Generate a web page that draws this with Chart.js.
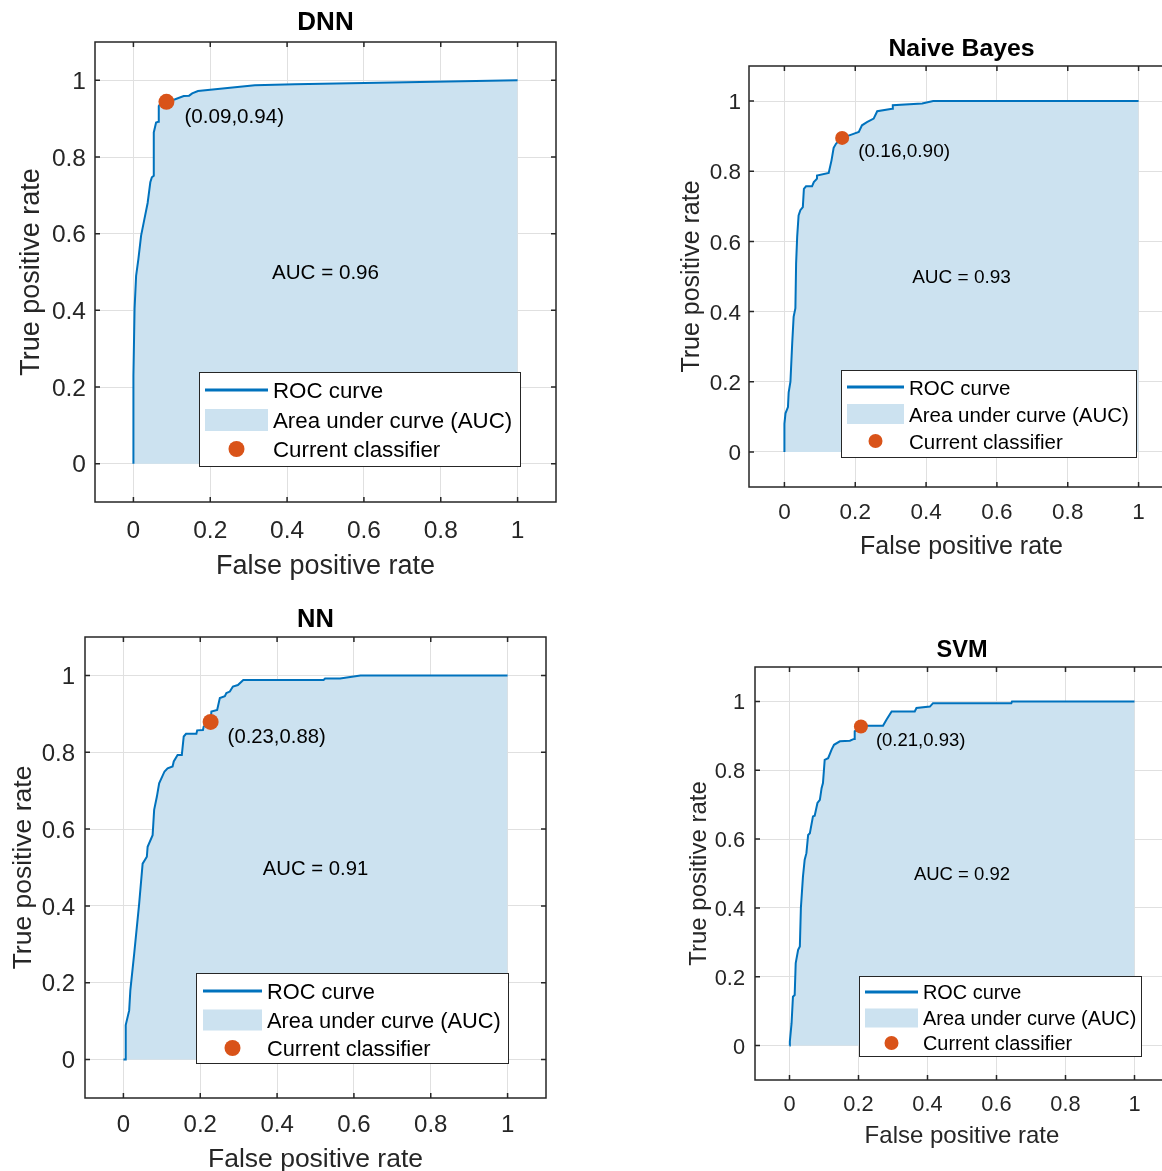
<!DOCTYPE html>
<html><head><meta charset="utf-8">
<script src="https://cdn.jsdelivr.net/npm/chart.js@4.4.1/dist/chart.umd.min.js"></script>
<style>
html,body{margin:0;padding:0;background:#fff;overflow:hidden;width:1162px;height:1171px;position:relative;}
canvas{position:absolute;}
</style></head><body>
<canvas id="c0"></canvas><canvas id="c1"></canvas><canvas id="c2"></canvas><canvas id="c3"></canvas>
<script>
// ---------- DATA ----------
const titles = ['DNN', 'Naive Bayes', 'NN', 'SVM'];

const dnnFpr = [0, 0, 0.003, 0.007, 0.013, 0.02, 0.027, 0.037, 0.044, 0.048, 0.053, 0.053, 0.059, 0.065, 0.066, 0.072, 0.086, 0.107, 0.131, 0.145, 0.153, 0.168, 0.316, 0.42, 1.0];
const dnnTpr = [0, 0.23, 0.404, 0.49, 0.534, 0.595, 0.63, 0.68, 0.734, 0.747, 0.751, 0.864, 0.89, 0.892, 0.933, 0.942, 0.944, 0.95, 0.959, 0.96, 0.966, 0.972, 0.987, 0.99, 1.0];

const nbFpr = [0, 0, 0.003, 0.01, 0.012, 0.017, 0.022, 0.026, 0.031, 0.033, 0.036, 0.04, 0.045, 0.052, 0.055, 0.061, 0.078, 0.083, 0.092, 0.092, 0.125, 0.133, 0.139, 0.146, 0.163, 0.191, 0.21, 0.219, 0.233, 0.252, 0.262, 0.304, 0.306, 0.389, 0.42, 1.0];
const nbTpr = [0, 0.08, 0.11, 0.128, 0.17, 0.2, 0.31, 0.385, 0.41, 0.537, 0.613, 0.674, 0.689, 0.698, 0.75, 0.757, 0.757, 0.769, 0.779, 0.788, 0.795, 0.831, 0.867, 0.879, 0.895, 0.905, 0.912, 0.931, 0.94, 0.95, 0.971, 0.978, 0.988, 0.993, 1.0, 1.0];

const nnFpr = [0, 0.006, 0.006, 0.015, 0.018, 0.028, 0.041, 0.05, 0.061, 0.063, 0.076, 0.08, 0.087, 0.093, 0.107, 0.115, 0.128, 0.131, 0.141, 0.152, 0.157, 0.163, 0.19, 0.192, 0.207, 0.209, 0.227, 0.229, 0.244, 0.251, 0.264, 0.268, 0.277, 0.285, 0.298, 0.312, 0.521, 0.525, 0.564, 0.617, 1.0];
const nnTpr = [0, 0, 0.09, 0.128, 0.18, 0.275, 0.406, 0.51, 0.528, 0.554, 0.584, 0.65, 0.684, 0.719, 0.75, 0.758, 0.763, 0.776, 0.793, 0.793, 0.841, 0.848, 0.848, 0.857, 0.858, 0.867, 0.879, 0.906, 0.91, 0.941, 0.946, 0.954, 0.958, 0.971, 0.975, 0.988, 0.988, 0.992, 0.992, 1.0, 1.0];

const svmFpr = [0, 0.001, 0.006, 0.01, 0.015, 0.018, 0.025, 0.03, 0.033, 0.039, 0.044, 0.049, 0.054, 0.059, 0.068, 0.073, 0.081, 0.088, 0.093, 0.097, 0.102, 0.112, 0.122, 0.129, 0.146, 0.175, 0.187, 0.189, 0.207, 0.218, 0.271, 0.281, 0.296, 0.363, 0.368, 0.407, 0.416, 0.643, 0.645, 1.0];
const svmTpr = [0, 0.012, 0.065, 0.142, 0.147, 0.24, 0.278, 0.288, 0.4, 0.491, 0.54, 0.559, 0.612, 0.617, 0.666, 0.668, 0.705, 0.714, 0.748, 0.763, 0.83, 0.835, 0.86, 0.874, 0.884, 0.886, 0.891, 0.913, 0.927, 0.929, 0.929, 0.947, 0.971, 0.971, 0.981, 0.985, 0.995, 0.995, 1.0, 1.0];

const aucValues = [0.96, 0.93, 0.91, 0.92];
const opFpr = [0.086, 0.163, 0.227, 0.207];
const opTpr = [0.944, 0.895, 0.879, 0.927];
const opLabels = ['(0.09,0.94)', '(0.16,0.90)', '(0.23,0.88)', '(0.21,0.93)'];

const tickValues = [0, 0.2, 0.4, 0.6, 0.8, 1];
const tickLabels = ['0', '0.2', '0.4', '0.6', '0.8', '1'];
const legendLabels = ['ROC curve', 'Area under curve (AUC)', 'Current classifier'];
const xAxisTitle = 'False positive rate';
const yAxisTitle = 'True positive rate';

// ---------- STYLE / LAYOUT ----------
const LINE = '#0072BD', FILL = 'rgb(204,226,240)', MARK = '#D95319', GRID = '#e0e0e0', AXC = '#262626';
const FAM = '"Liberation Sans", Arial, Helvetica, sans-serif';
const TS = 2; // visual correction for middle-baselined text

const specs = [
  {canvas:[0,0,651,600], area:[95,42,556,502], titleY:21, xTickY:529, xLabelY:565, yTickR:86, yLabelX:30,
   fonts:{tick:24.5,label:27,title:26,legend:22.3,text:20.6}, mr:8, labOff:[18,14],
   legend:{x:199,y:372,w:321,h:94,rows:[18,48,77],sx0:6,sx1:69,tx:74,ph:22,mr:8}},
  {canvas:[661,10,601,570], area:[749,66,1174,487], titleY:47, xTickY:511, xLabelY:545, yTickR:741, yLabelX:690,
   fonts:{tick:22.5,label:25,title:24.8,legend:20.5,text:19}, mr:7, labOff:[16,12],
   legend:{x:841,y:370,w:295,h:87,rows:[17,44,71],sx0:6,sx1:63,tx:68,ph:20,mr:7}},
  {canvas:[0,590,631,600], area:[85,637,546,1098], titleY:618, xTickY:1123, xLabelY:1158, yTickR:75, yLabelX:22,
   fonts:{tick:24,label:26.5,title:25.5,legend:21.8,text:20.3}, mr:8, labOff:[17,14],
   legend:{x:196,y:973,w:312,h:90,rows:[18,47,75],sx0:7,sx1:66,tx:71,ph:21,mr:8}},
  {canvas:[665,620,594,560], area:[755,667,1169,1080], titleY:649, xTickY:1103, xLabelY:1134, yTickR:745, yLabelX:697,
   fonts:{tick:21.8,label:24,title:23.5,legend:19.9,text:18.5}, mr:7, labOff:[15,13],
   legend:{x:859,y:976,w:282,h:80,rows:[16,42,67],sx0:6,sx1:59,tx:64,ph:19,mr:7}}
];

function build(i, fpr, tpr) {
  const S = specs[i];
  const cv = document.getElementById('c' + i);
  const [cl, ct, cw, ch] = S.canvas;
  cv.width = cw; cv.height = ch;
  cv.style.left = cl + 'px'; cv.style.top = ct + 'px';
  cv.style.width = cw + 'px'; cv.style.height = ch + 'px';
  const [al, at, ar, ab] = S.area;
  const F = S.fonts;
  const yW = al - cl;
  const rW = cl + cw - ar;
  const xH = ct + ch - ab;
  const titleY = S.titleY + TS;
  const tPadTop = titleY - ct - F.title * 0.6;
  const tPadBot = at - titleY - F.title * 0.6;
  const xTickPad = S.xTickY + TS - ab - F.tick * 0.6;
  const xTitlePad = ct + ch - (S.xLabelY + TS) - F.label * 0.6;
  const yTickPad = al - S.yTickR;
  const yTitlePad = (S.yLabelX + TS) - cl - F.label * 0.6;

  const plugin = {
    id: 'matlab' + i,
    afterDatasetsDraw(chart) {
      const ctx = chart.ctx;
      const {left, top, right, bottom} = chart.chartArea;
      const xs = chart.scales.x, ys = chart.scales.y;
      ctx.save();
      // box
      ctx.strokeStyle = AXC; ctx.lineWidth = 1.5;
      ctx.strokeRect(left, top, right - left, bottom - top);
      const TL = 5;
      ctx.beginPath();
      tickValues.forEach(v => {
        const px = xs.getPixelForValue(v);
        ctx.moveTo(px, bottom); ctx.lineTo(px, bottom - TL);
        ctx.moveTo(px, top); ctx.lineTo(px, top + TL);
        const py = ys.getPixelForValue(v);
        ctx.moveTo(left, py); ctx.lineTo(left + TL, py);
        ctx.moveTo(right, py); ctx.lineTo(right - TL, py);
      });
      ctx.stroke();
      // texts
      ctx.fillStyle = '#000';
      ctx.font = F.text + 'px ' + FAM;
      ctx.textAlign = 'center'; ctx.textBaseline = 'middle';
      ctx.fillText('AUC = ' + aucValues[i].toFixed(2), xs.getPixelForValue(0.5), ys.getPixelForValue(0.5) + 1.5);
      ctx.textAlign = 'left';
      ctx.fillText(opLabels[i], xs.getPixelForValue(opFpr[i]) + S.labOff[0], ys.getPixelForValue(opTpr[i]) + S.labOff[1] + 1.5);
      // legend
      const L = S.legend;
      const lx = L.x - cl, ly = L.y - ct;
      ctx.fillStyle = '#fff';
      ctx.fillRect(lx, ly, L.w, L.h);
      ctx.strokeStyle = AXC; ctx.lineWidth = 1;
      ctx.strokeRect(lx + 0.5, ly + 0.5, L.w, L.h);
      ctx.strokeStyle = LINE; ctx.lineWidth = 3;
      ctx.beginPath(); ctx.moveTo(lx + L.sx0, ly + L.rows[0]); ctx.lineTo(lx + L.sx1, ly + L.rows[0]); ctx.stroke();
      ctx.fillStyle = FILL;
      ctx.fillRect(lx + L.sx0, ly + L.rows[1] - L.ph / 2, L.sx1 - L.sx0, L.ph);
      ctx.fillStyle = MARK;
      ctx.beginPath(); ctx.arc(lx + (L.sx0 + L.sx1) / 2, ly + L.rows[2], L.mr, 0, Math.PI * 2); ctx.fill();
      ctx.fillStyle = '#000';
      ctx.font = F.legend + 'px ' + FAM;
      ctx.textAlign = 'left'; ctx.textBaseline = 'middle';
      legendLabels.forEach((t, k) => ctx.fillText(t, lx + L.tx, ly + L.rows[k] + TS));
      ctx.restore();
    }
  };

  const axisCommon = (size, pad) => ({
    type: 'linear', min: -0.1, max: 1.1,
    afterBuildTicks: s => { s.ticks = tickValues.map(v => ({value: v})); },
    ticks: {callback: (v, idx) => tickLabels[idx], autoSkip: false, maxRotation: 0, minRotation: 0,
            padding: pad, color: AXC, font: {family: FAM, size: size}},
    grid: {color: GRID, lineWidth: 1, drawTicks: false},
    border: {display: false}
  });

  const xOpts = Object.assign(axisCommon(F.tick, xTickPad), {
    position: 'bottom',
    afterFit: s => { s.height = xH; },
    title: {display: true, text: xAxisTitle, color: AXC, font: {family: FAM, size: F.label}, padding: {top: 0, bottom: xTitlePad}}
  });
  const yOpts = Object.assign(axisCommon(F.tick, yTickPad), {
    position: 'left',
    afterFit: s => { s.width = yW; },
    title: {display: true, text: yAxisTitle, color: AXC, font: {family: FAM, size: F.label}, padding: {top: yTitlePad, bottom: 0}}
  });
  yOpts.ticks.labelOffset = TS;
  // empty right-hand axis: reserves the margin so the title centres over the plot box
  const yrOpts = {
    type: 'linear', position: 'right', min: -0.1, max: 1.1,
    afterFit: s => { s.width = rW; },
    ticks: {display: false}, grid: {display: false, drawTicks: false}, border: {display: false}
  };

  new Chart(cv, {
    type: 'scatter',
    data: {datasets: [
      {label: legendLabels[2], data: [{x: opFpr[i], y: opTpr[i]}], pointRadius: S.mr, pointHoverRadius: S.mr,
       backgroundColor: MARK, borderWidth: 0, showLine: false, yAxisID: 'y'},
      {label: legendLabels[0], data: fpr.map((x, k) => ({x: x, y: tpr[k]})), showLine: true, fill: 'origin',
       backgroundColor: FILL, borderColor: LINE, borderWidth: 2, pointRadius: 0, tension: 0, yAxisID: 'y'}
    ]},
    options: {
      responsive: false, animation: false, devicePixelRatio: 1, events: [],
      layout: {padding: 0},
      plugins: {
        legend: {display: false}, tooltip: {enabled: false},
        title: {display: true, text: titles[i], color: '#000', font: {family: FAM, size: F.title, weight: 'bold'},
                padding: {top: tPadTop, bottom: tPadBot}}
      },
      scales: {x: xOpts, y: yOpts, yr: yrOpts}
    },
    plugins: [plugin]
  });
}

build(0, dnnFpr, dnnTpr);
build(1, nbFpr, nbTpr);
build(2, nnFpr, nnTpr);
build(3, svmFpr, svmTpr);
</script>
</body></html>
